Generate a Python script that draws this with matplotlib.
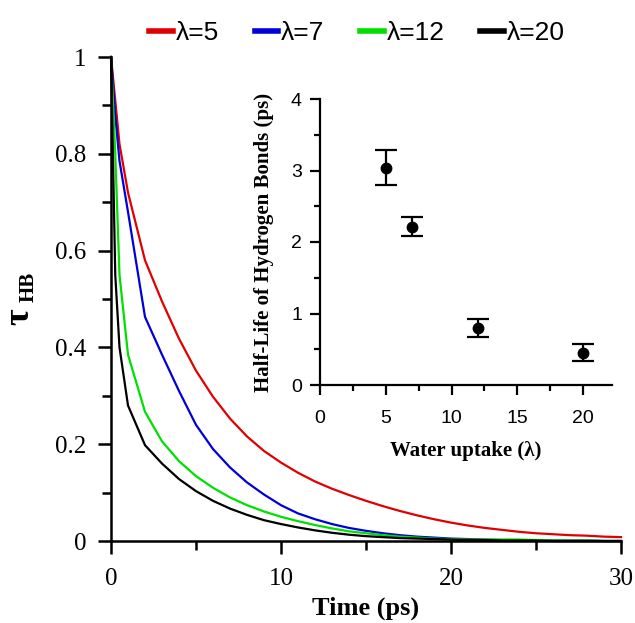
import matplotlib
matplotlib.use("Agg")
import matplotlib.pyplot as plt
from matplotlib.ticker import MultipleLocator
from matplotlib.lines import Line2D

# ---- data ----
time_ps = [0, 0.25, 0.5, 1, 2, 3, 4, 5, 6, 7, 8, 9, 10, 11, 12, 13, 14, 15, 16, 17, 18,
           19, 20, 21, 22, 23, 24, 25, 26, 27, 28, 29, 30]
tau_l5  = [1, 0.91, 0.82, 0.72, 0.58, 0.495, 0.418, 0.352, 0.298, 0.253, 0.216, 0.186, 0.162,
           0.141, 0.123, 0.108, 0.095, 0.083, 0.072, 0.062, 0.053, 0.045, 0.038, 0.032, 0.027,
           0.023, 0.019, 0.016, 0.014, 0.012, 0.011, 0.009, 0.008]
tau_l7  = [1, 0.88, 0.785, 0.68, 0.463, 0.385, 0.31, 0.24, 0.19, 0.152, 0.121, 0.096, 0.074,
           0.057, 0.045, 0.035, 0.027, 0.021, 0.016, 0.012, 0.009, 0.007, 0.005, 0.004, 0.003,
           0.002, 0.002, 0.001, 0.001, 0.001, 0.001, 0.0, 0.0]
tau_l12 = [1, 0.80, 0.55, 0.385, 0.267, 0.206, 0.165, 0.134, 0.11, 0.09, 0.074, 0.061, 0.05,
           0.041, 0.033, 0.026, 0.02, 0.016, 0.012, 0.009, 0.007, 0.005, 0.004, 0.003, 0.003,
           0.003, 0.003, 0.002, 0.001, 0.001, 0.001, 0.0, 0.0]
tau_l20 = [1, 0.55, 0.40, 0.28, 0.198, 0.16, 0.128, 0.103, 0.083, 0.067, 0.054, 0.043, 0.035,
           0.028, 0.022, 0.017, 0.013, 0.01, 0.008, 0.006, 0.005, 0.004, 0.003, 0.002, 0.002,
           0.001, 0.001, 0.001, 0.0, 0.0, 0.0, 0.0, 0.0]
series_labels = ["λ=5", "λ=7", "λ=12", "λ=20"]
series_colors = ["#e00000", "#0000d8", "#00e000", "#000000"]

water_uptake = [5, 7, 12, 20]
half_life = [3.04, 2.21, 0.80, 0.45]
half_life_lo = [2.80, 2.08, 0.67, 0.33]
half_life_hi = [3.29, 2.35, 0.93, 0.57]

W, H = 635, 623
fig = plt.figure(figsize=(W / 100, H / 100), dpi=100)

serif = "Liberation Serif"
sans = "Liberation Sans"

# ---- main axes ----
ax = fig.add_axes([111 / W, 1 - 541 / H, 510 / W, 484 / H])
for vals, c in zip([tau_l5, tau_l7, tau_l12, tau_l20], series_colors):
    ax.plot(time_ps, vals, color=c, lw=1.6, clip_on=False)
ax.set_xlim(0, 30)
ax.set_ylim(0, 1)
for s in ["top", "right"]:
    ax.spines[s].set_visible(False)
for s in ["left", "bottom"]:
    ax.spines[s].set_linewidth(1.8)
ax.xaxis.set_major_locator(MultipleLocator(10))
ax.xaxis.set_minor_locator(MultipleLocator(5))
ax.yaxis.set_major_locator(MultipleLocator(0.2))
ax.yaxis.set_minor_locator(MultipleLocator(0.1))
ax.tick_params(which="major", direction="out", length=9.5, width=1.8, labelsize=18)
ax.tick_params(axis="x", which="major", pad=10)
ax.tick_params(axis="y", which="major", pad=8)
ax.tick_params(which="minor", direction="out", length=6.5, width=1.8)
ax.set_yticks([0, 0.2, 0.4, 0.6, 0.8, 1.0])
ax.set_yticklabels(["0", "0.2", "0.4", "0.6", "0.8", "1"])
for lab in ax.get_xticklabels() + ax.get_yticklabels():
    lab.set_fontfamily(serif)
ax.set_xlabel("Time (ps)", fontfamily=serif, fontweight="bold", fontsize=19, labelpad=5)

fig.text(20 / W, 1 - 317 / H, "τ", rotation=90, ha="center", va="center",
         fontfamily=serif, fontweight="bold", fontsize=26)
fig.text(29 / W, 1 - 287 / H, "HB", rotation=90, ha="center", va="center",
         fontfamily=serif, fontweight="bold", fontsize=15)

# ---- legend ----
handles = [Line2D([], [], color=c, lw=4) for c in series_colors]
fig.legend(handles, series_labels, loc="center", bbox_to_anchor=(357 / W, 1 - 33 / H),
           ncol=4, frameon=False, handlelength=0.9, handletextpad=0.1,
           columnspacing=1.35, prop={"family": sans, "size": 19})

# ---- inset ----
ins = fig.add_axes([320 / W, 1 - 385 / H, 292 / W, 286 / H])
yerr = [[v - lo for v, lo in zip(half_life, half_life_lo)],
        [hi - v for v, hi in zip(half_life, half_life_hi)]]
ins.errorbar(water_uptake, half_life, yerr=yerr, fmt="o", color="black", ms=7.5,
             capsize=8, capthick=1.6, elinewidth=1.6)
ins.set_xlim(0, 22.2)
ins.set_ylim(0, 4)
for s in ["top", "right"]:
    ins.spines[s].set_visible(False)
for s in ["left", "bottom"]:
    ins.spines[s].set_linewidth(1.6)
ins.xaxis.set_major_locator(MultipleLocator(5))
ins.xaxis.set_minor_locator(MultipleLocator(2.5))
ins.yaxis.set_major_locator(MultipleLocator(1))
ins.yaxis.set_minor_locator(MultipleLocator(0.5))
ins.tick_params(which="major", direction="out", length=7, width=1.6, labelsize=14)
ins.tick_params(axis="x", which="major", pad=11)
ins.tick_params(axis="y", which="major", pad=6)
ins.tick_params(which="minor", direction="out", length=4, width=1.6)
for lab in ins.get_xticklabels() + ins.get_yticklabels():
    lab.set_fontfamily(sans)
ins.set_xlabel("Water uptake (λ)", fontfamily=serif, fontweight="bold", fontsize=15, labelpad=10)
ins.set_ylabel("Half-Life of Hydrogen Bonds (ps)", fontfamily=serif, fontweight="bold",
               fontsize=15, labelpad=12)
ins.patch.set_alpha(0)

fig.savefig("out.png", dpi=100)
